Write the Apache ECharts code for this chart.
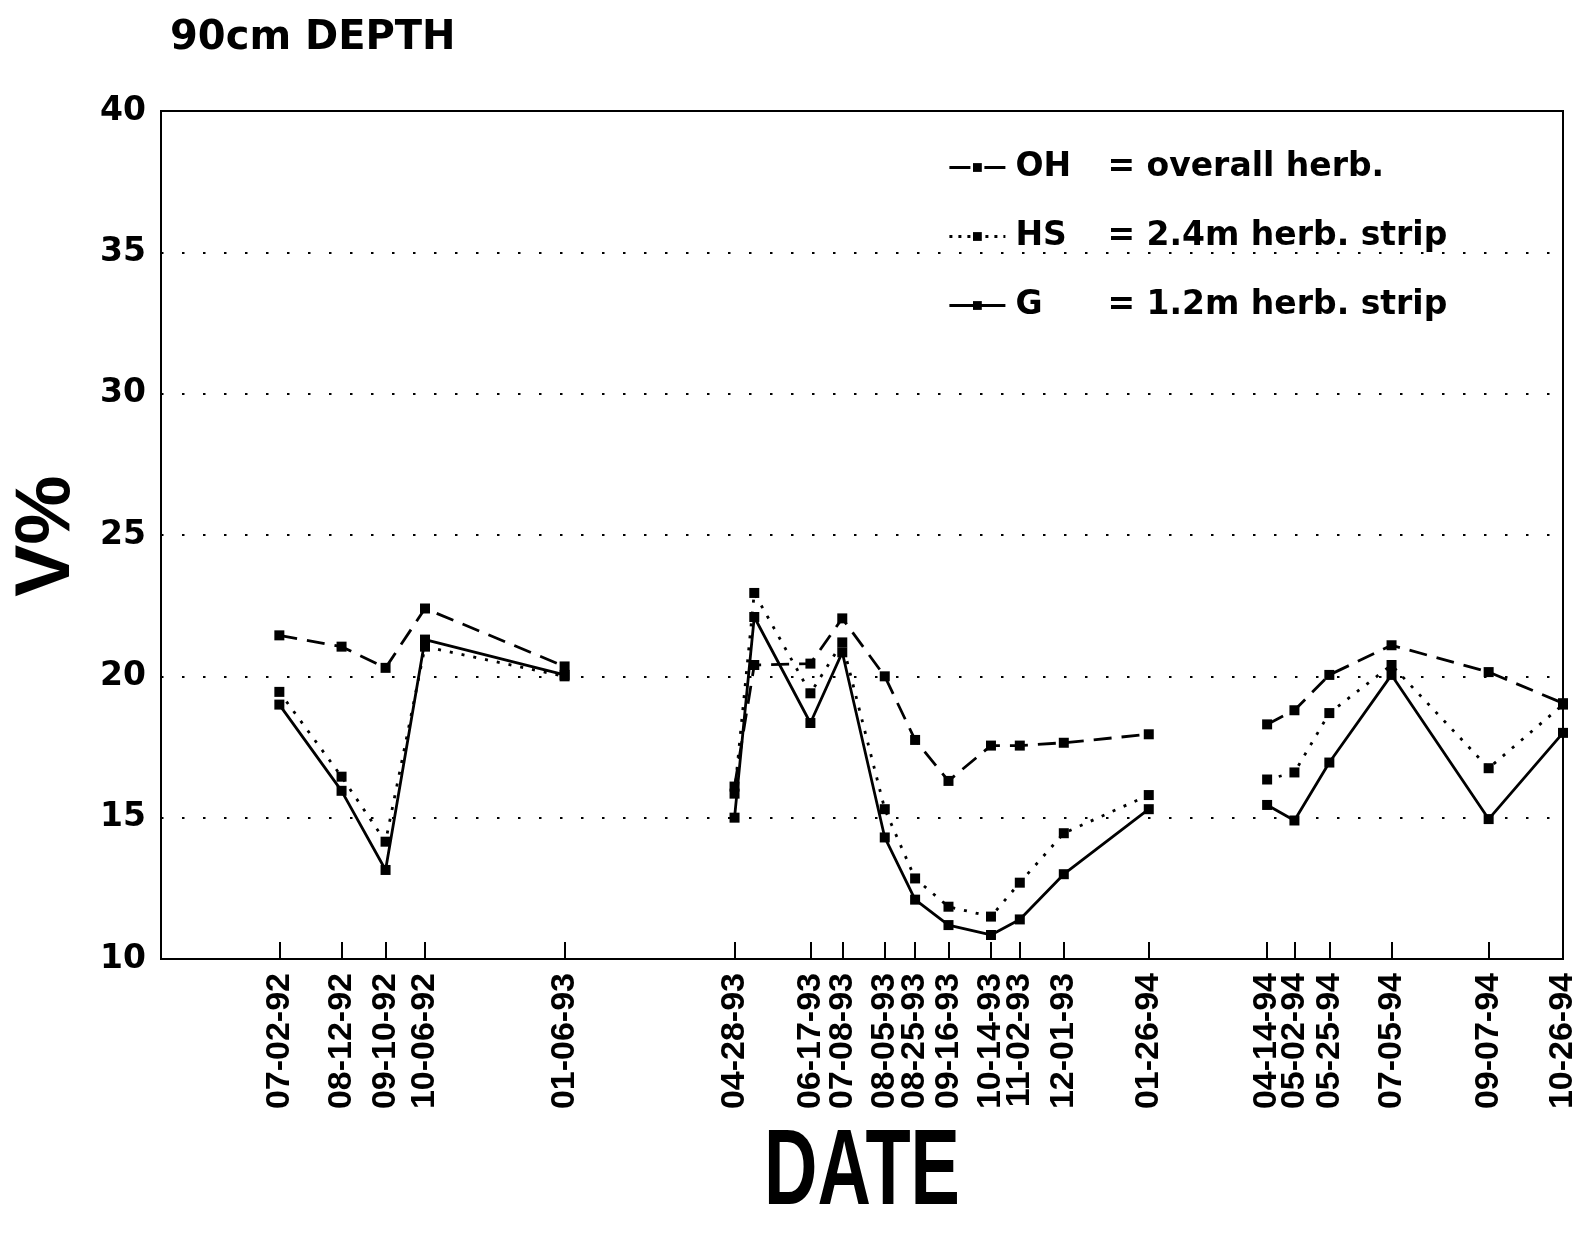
<!DOCTYPE html>
<html>
<head>
<meta charset="utf-8">
<title>90cm DEPTH</title>
<script src="https://cdn.jsdelivr.net/npm/echarts@6/dist/echarts.min.js"></script>
<style>
  html, body { margin: 0; padding: 0; background: #fff; }
  #chart { width: 1584px; height: 1243px; }
</style>
</head>
<body>
<div id="chart"></div>
<script>
// Sampling dates (soil moisture at 90 cm)
const sampleDates = [
  '1992-07-02', '1992-08-12', '1992-09-10', '1992-10-06', '1993-01-06',
  '1993-04-28', '1993-05-11', '1993-06-17', '1993-07-08', '1993-08-05',
  '1993-08-25', '1993-09-16', '1993-10-14', '1993-11-02', '1993-12-01',
  '1994-01-26', '1994-04-14', '1994-05-02', '1994-05-25', '1994-07-05',
  '1994-09-07', '1994-10-26'
];
// Sampling season each date belongs to (lines are broken between seasons)
const seasonOf = [0, 0, 0, 0, 0, 1, 1, 1, 1, 1, 1, 1, 1, 1, 1, 1, 2, 2, 2, 2, 2, 2];

// Dates carrying a tick and a label on the date axis
const tickDates = [
  '1992-07-02', '1992-08-12', '1992-09-10', '1992-10-06', '1993-01-06',
  '1993-04-28', '1993-06-17', '1993-07-08', '1993-08-05', '1993-08-25',
  '1993-09-16', '1993-10-14', '1993-11-02', '1993-12-01', '1994-01-26',
  '1994-04-14', '1994-05-02', '1994-05-25', '1994-07-05', '1994-09-07',
  '1994-10-26'
];

// Volumetric water content, V%
const ohValues = [21.45, 21.05, 20.3, 22.4, 20.35, 16.1, 20.4, 20.45, 22.05, 20.0,
  17.75, 16.3, 17.55, 17.55, 17.65, 17.95, 18.3, 18.8, 20.05, 21.1, 20.15, 19.05];
const hsValues = [19.45, 16.45, 14.15, 21.05, 20.0, 15.85, 22.95, 19.4, 21.2, 15.3,
  12.85, 11.85, 11.5, 12.7, 14.45, 15.8, 16.35, 16.6, 18.7, 20.4, 16.75, 19.0];
const gValues = [19.0, 15.95, 13.15, 21.3, 20.05, 15.0, 22.1, 18.35, 20.85, 14.3,
  12.1, 11.2, 10.85, 11.4, 13.0, 15.3, 15.45, 14.9, 16.95, 20.05, 14.95, 18.0];

const seriesCodes = ['OH', 'HS', 'G'];
const seriesDescriptions = ['overall herb.', '2.4m herb. strip', '1.2m herb. strip'];

const yTicks = [10, 15, 20, 25, 30, 35, 40];
const axisStart = '1992-04-15';
const axisEnd = '1994-10-26';

const FONT = "'Liberation Sans', Arial, Helvetica, sans-serif";
const WIDE_FONT = "'DejaVu Sans', Verdana, sans-serif";

function ts(d) {
  const p = d.split('-').map(Number);
  return Date.UTC(p[0], p[1] - 1, p[2]);
}
function pad(n) { return (n < 10 ? '0' : '') + n; }
function fmtDate(v) {
  const d = new Date(v);
  return pad(d.getUTCMonth() + 1) + '-' + pad(d.getUTCDate()) + '-' + pad(d.getUTCFullYear() % 100);
}

// Build [x, y] pairs, inserting a gap marker where a new season starts
function buildSeries(values) {
  const out = [];
  for (let i = 0; i < sampleDates.length; i++) {
    if (i > 0 && seasonOf[i] !== seasonOf[i - 1]) {
      out.push([(ts(sampleDates[i - 1]) + ts(sampleDates[i])) / 2, '-']);
    }
    out.push([ts(sampleDates[i]), values[i]]);
  }
  return out;
}

const lineStyles = [
  { type: [18, 10], width: 2.8 },
  { type: [3, 9], width: 2.8 },
  { type: 'solid', width: 2.8 }
];
// Line pattern of the legend samples: "-▪-", "···▪···", "—▪—"
const legendLineStyles = [
  { type: [21, 14], width: 2.8, color: '#000' },
  { type: [3, 6], width: 2.8, color: '#000' },
  { type: 'solid', width: 2.8, color: '#000' }
];
const valueSets = [ohValues, hsValues, gValues];

const chart = echarts.init(document.getElementById('chart'), null, { renderer: 'canvas' });

const legendText = { fontFamily: WIDE_FONT, fontWeight: 'bold', fontSize: 33, color: '#000' };

chart.setOption({
  backgroundColor: '#ffffff',
  animation: false,
  title: {
    text: '90cm DEPTH',
    left: 165,
    top: 14,
    textStyle: { fontFamily: WIDE_FONT, fontWeight: 'bold', fontSize: 40, color: '#000' }
  },
  legend: {
    orient: 'vertical',
    left: 943,
    top: 146,
    itemWidth: 56,
    itemHeight: 11,
    itemGap: 36,
    data: seriesCodes.map(function (code, i) {
      return { name: code, lineStyle: legendLineStyles[i] };
    }),
    formatter: function (name) {
      const i = seriesCodes.indexOf(name);
      return '{code|' + name + '}{desc|= ' + seriesDescriptions[i] + '}';
    },
    textStyle: Object.assign({
      rich: {
        code: Object.assign({ width: 92, padding: [0, 0, 0, 5] }, legendText),
        desc: Object.assign({}, legendText)
      }
    }, legendText)
  },
  grid: {
    left: 161,
    top: 111,
    right: 21,
    bottom: 284,
    show: true,
    borderColor: '#000',
    borderWidth: 2,
    backgroundColor: 'transparent'
  },
  xAxis: {
    type: 'value',
    min: ts(axisStart),
    max: ts(axisEnd),
    axisLine: { show: true, lineStyle: { color: '#000', width: 2 } },
    axisTick: {
      show: true,
      inside: true,
      length: 17,
      customValues: tickDates.map(ts),
      lineStyle: { color: '#000', width: 2 }
    },
    axisLabel: {
      show: true,
      rotate: 90,
      margin: 14,
      customValues: tickDates.map(ts),
      formatter: fmtDate,
      fontFamily: FONT,
      fontWeight: 'bold',
      fontSize: 34,
      color: '#000'
    },
    splitLine: { show: false }
  },
  yAxis: {
    type: 'value',
    min: yTicks[0],
    max: yTicks[yTicks.length - 1],
    interval: 5,
    axisLine: { show: true, lineStyle: { color: '#000', width: 2 } },
    axisTick: { show: false },
    axisLabel: {
      margin: 15,
      fontFamily: WIDE_FONT,
      fontWeight: 'bold',
      fontSize: 33,
      color: '#000'
    },
    splitLine: {
      show: true,
      lineStyle: { color: '#000', width: 2, type: [2.5, 18.5] }
    }
  },
  graphic: [
    {
      type: 'text',
      x: 47,
      y: 536,
      rotation: Math.PI / 2,
      style: {
        text: 'V%',
        fontFamily: FONT,
        fontWeight: 'bold',
        fontSize: 78,
        fill: '#000',
        textAlign: 'center',
        textVerticalAlign: 'middle'
      }
    },
    {
      type: 'text',
      x: 862,
      y: 1174,
      scaleY: 1.45,
      style: {
        text: 'DATE',
        fontFamily: FONT,
        fontWeight: 'bold',
        fontSize: 74,
        fill: '#000',
        textAlign: 'center',
        textVerticalAlign: 'middle'
      }
    }
  ],
  series: seriesCodes.map(function (code, i) {
    return {
      name: code,
      type: 'line',
      data: buildSeries(valueSets[i]),
      connectNulls: false,
      symbol: 'rect',
      symbolSize: 10,
      showSymbol: true,
      itemStyle: { color: '#000', borderWidth: 0 },
      lineStyle: Object.assign({ color: '#000' }, lineStyles[i]),
      z: 3 - i
    };
  })
});
</script>
</body>
</html>
